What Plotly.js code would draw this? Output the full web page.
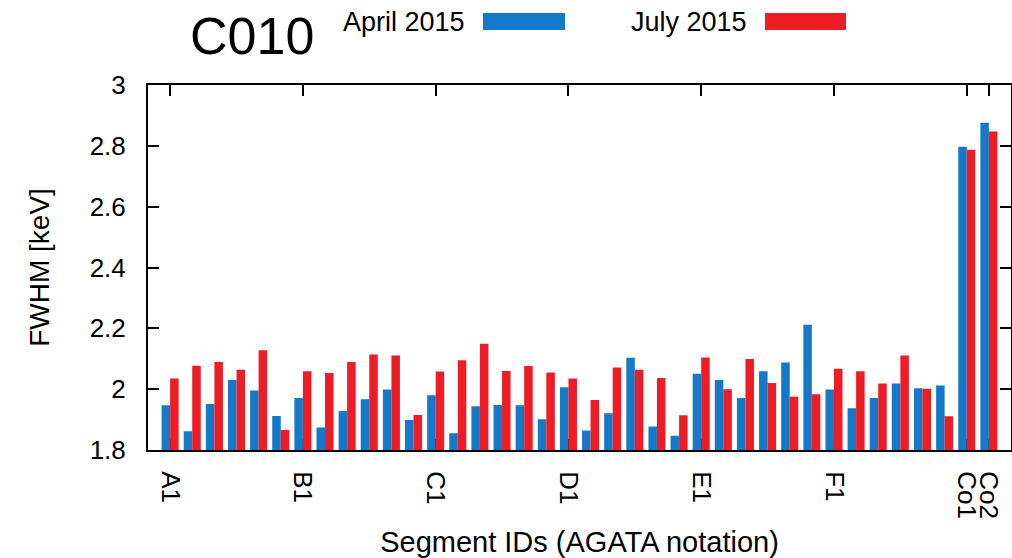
<!DOCTYPE html>
<html>
<head>
<meta charset="utf-8">
<script src="https://cdn.plot.ly/plotly-3.0.1.min.js"></script>
<style>html,body{margin:0;padding:0;background:#fff;}#chart{width:1012px;height:558px;}</style>
</head>
<body>
<div id="chart"></div>
<script>
const segments = ["A1","A2","A3","A4","A5","A6","B1","B2","B3","B4","B5","B6",
  "C1","C2","C3","C4","C5","C6","D1","D2","D3","D4","D5","D6",
  "E1","E2","E3","E4","E5","E6","F1","F2","F3","F4","F5","F6","Co1","Co2"];
const april2015 = [1.947,1.862,1.951,2.030,1.996,1.912, 1.971,1.874,1.928,1.967,1.999,1.899,
  1.980,1.855,1.944,1.948,1.947,1.901, 2.006,1.864,1.921,2.103,1.877,1.847,
  2.051,2.030,1.971,2.059,2.088,2.212, 1.999,1.937,1.971,2.019,2.003,2.012, 2.797,2.876];
const july2015 = [2.035,2.077,2.089,2.064,2.128,1.866, 2.059,2.053,2.089,2.114,2.111,1.915,
  2.058,2.095,2.149,2.060,2.076,2.055, 2.035,1.964,2.071,2.064,2.037,1.914,
  2.104,2.000,2.099,2.020,1.975,1.983, 2.067,2.059,2.019,2.111,2.001,1.911, 2.787,2.847];
const tickLabels = ["A1","B1","C1","D1","E1","F1","Co1","Co2"];
const seriesNames = ["April 2015","July 2015"];
const titleText = "C010";

const blue = "#1479c9", red = "#ee1c25";
const font = "Liberation Sans, Arial, Helvetica, sans-serif";

const traces = [
  {type:"bar", name:seriesNames[0], x:segments, y:april2015, marker:{color:blue, line:{width:0}}},
  {type:"bar", name:seriesNames[1], x:segments, y:july2015, marker:{color:red, line:{width:0}}}
];

const L = 148, R = 1011, T = 85, B = 450;
const px = v => (v - L) / (R - L);
const py = v => (B - v) / (B - T);

const layout = {
  width:1012, height:558,
  margin:{l:L, r:1012-R, t:T, b:558-B, pad:0},
  paper_bgcolor:"#fff", plot_bgcolor:"#fff",
  showlegend:false,
  barmode:"group", bargap:0.23, bargroupgap:0,
  font:{family:font, color:"#000", size:26},
  xaxis:{
    type:"category", categoryorder:"array", categoryarray:segments,
    range:[-1, 38], tickmode:"array", tickvals:tickLabels, ticktext:tickLabels,
    tickangle:90, ticks:"inside", ticklen:11, tickwidth:2, tickcolor:"#000",
    showline:true, linecolor:"#000", linewidth:2, mirror:"ticks",
    showgrid:false, zeroline:false, layer:"below traces",
    ticklabelstandoff:14, tickfont:{size:26, family:font},
    automargin:false,
    title:{text:"Segment IDs (AGATA notation)", font:{size:29, family:font}, standoff:14}
  },
  yaxis:{
    range:[1.8, 3], dtick:0.2, tick0:1.8,
    ticks:"inside", ticklen:11, tickwidth:2, tickcolor:"#000",
    showline:true, linecolor:"#000", linewidth:2, mirror:"ticks",
    showgrid:false, zeroline:false, layer:"below traces",
    ticklabelstandoff:15, tickfont:{size:26, family:font},
    automargin:false,
    title:{text:"FWHM [keV]", font:{size:28, family:font}, standoff:32}
  },
  annotations:[
    {xref:"paper", yref:"paper", x:px(252), y:py(36), text:titleText, showarrow:false,
     xanchor:"center", yanchor:"middle", font:{size:52, family:font}},
    {xref:"paper", yref:"paper", x:px(467), y:py(22), text:seriesNames[0], showarrow:false,
     xanchor:"right", yanchor:"middle", font:{size:27, family:font}},
    {xref:"paper", yref:"paper", x:px(749), y:py(22), text:seriesNames[1], showarrow:false,
     xanchor:"right", yanchor:"middle", font:{size:27, family:font}}
  ],
  shapes:[
    {type:"rect", xref:"paper", yref:"paper", x0:px(483), x1:px(565), y0:py(30), y1:py(13),
     fillcolor:blue, line:{width:0}},
    {type:"rect", xref:"paper", yref:"paper", x0:px(765), x1:px(846), y0:py(30), y1:py(13),
     fillcolor:red, line:{width:0}}
  ]
};

Plotly.newPlot("chart", traces, layout, {displayModeBar:false, staticPlot:true});
</script>
</body>
</html>
